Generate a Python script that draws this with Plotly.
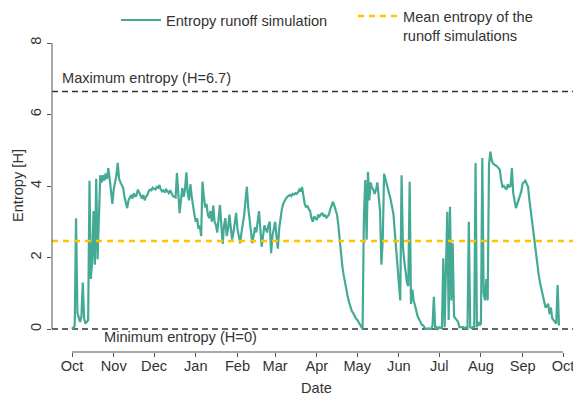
import pandas as pd
import plotly.graph_objects as go

# daily entropy of the runoff simulations, starting 1 Oct (hydrological year)
start_date = "2014-10-01"
entropy = [
    0.05, 0.0, 0.1, 3.1, 0.45, 0.3, 0.2, 0.35, 1.3, 0.3,
    0.15, 0.2, 0.25, 4.15, 1.4, 1.9, 3.3, 1.8, 4.2, 1.95,
    3.2, 4.3, 4.1, 4.3, 4.15, 4.35, 4.2, 4.5, 4.2, 3.9,
    3.5, 3.9, 4.1, 4.3, 4.65, 4.2, 4.1, 4.0, 3.95, 3.7,
    3.55, 3.38, 3.6, 3.7, 3.75, 3.65, 3.8, 3.7, 3.75, 3.9,
    3.8, 3.7, 3.65, 3.75, 3.6, 3.7, 3.75, 3.85, 3.9, 3.88,
    3.95, 3.92, 3.9, 3.97, 3.95, 4.03, 3.9, 3.85, 3.88, 3.82,
    3.9, 3.85, 3.8, 3.88, 3.78, 3.72, 3.7, 3.68, 4.36, 3.7,
    3.24, 3.6, 3.95, 3.7, 3.9, 4.38, 3.8, 3.6, 4.05, 3.7,
    3.4, 3.2, 3.0, 3.1, 2.8, 2.9, 2.6, 4.12, 3.7, 3.4,
    3.5, 3.2, 3.1, 3.3, 3.0, 3.45, 3.0, 2.9, 2.7, 3.1,
    3.47, 2.9, 2.38, 2.9, 3.1, 2.6, 2.8, 3.2, 2.8, 2.5,
    2.7, 3.0, 3.25, 2.8, 2.6, 2.4, 2.7, 2.9, 3.2, 3.6,
    3.98, 3.4, 3.0, 2.7, 2.4, 2.6, 2.85, 2.7, 3.0, 3.3,
    2.8, 2.3, 2.6, 2.9, 2.8, 2.7, 2.9, 3.0, 2.12, 2.6,
    2.8, 3.0, 2.6, 2.25, 2.8, 3.1, 3.35, 3.5, 3.6, 3.65,
    3.7, 3.72, 3.75, 3.72, 3.78, 3.76, 3.8, 3.78, 3.82, 3.9,
    3.85, 3.97, 3.7, 3.5, 3.4, 3.45, 3.35, 3.3, 3.1, 3.0,
    3.15, 3.1, 3.05, 3.2, 3.15, 3.2, 3.25, 3.15, 3.2, 3.1,
    3.15, 3.2, 3.35, 3.45, 3.56, 3.45, 3.3, 3.2, 2.9, 2.46,
    2.0, 1.74, 1.5, 1.27, 1.1, 0.9, 0.75, 0.62, 0.5, 0.45,
    0.35, 0.3, 0.26, 0.2, 0.12, 0.05, 0.0, 3.14, 4.17, 2.5,
    4.4, 3.6, 4.1, 3.95, 3.9, 3.78, 3.9, 4.1, 3.7, 3.3,
    1.8, 2.5, 4.34, 4.2, 4.05, 3.9, 3.8, 3.6, 3.4, 3.2,
    2.7, 2.2, 1.6, 1.1, 0.8, 4.3, 2.3, 1.9, 1.6, 1.3,
    1.2, 4.12, 0.7, 1.1, 0.8, 0.6, 0.5, 0.35, 0.25, 0.2,
    0.12, 0.1, 0.05, 0.0, 0.0, 0.02, 0.0, 0.0, 0.1, 0.9,
    0.0, 0.05, 0.0, 0.05, 0.03, 0.05, 1.98, 0.05, 1.74, 3.28,
    0.25, 3.42, 0.8, 2.4, 0.35, 0.3, 0.25, 0.2, 0.05, 0.05,
    0.03, 0.05, 0.02, 0.05, 0.03, 3.0, 0.05, 0.03, 0.05, 0.05,
    4.64, 0.05, 0.2, 0.1, 0.15, 4.78, 1.0, 0.8, 1.4, 0.8,
    4.6, 4.96, 4.72, 4.63, 4.6, 4.58, 4.55, 4.5, 4.46, 4.17,
    3.98, 4.0, 3.95, 3.9, 4.05, 3.98, 4.0, 4.5, 3.8, 3.6,
    3.38, 3.5, 3.6, 3.72, 3.85, 4.08, 4.1, 4.15, 4.05, 3.98,
    3.62, 3.3, 3.0, 2.77, 2.4, 2.0, 1.8, 1.5, 1.28, 1.1,
    0.9, 0.75, 0.6, 0.65, 0.7, 0.42, 0.6, 0.3, 0.25, 0.2,
    0.15, 1.23, 0.1,
]
mean_entropy = 2.46
max_entropy = 6.64
min_entropy = 0.0

month_ticks = pd.date_range("2014-10-01", "2015-10-01", freq="MS")
x_range = ["2014-09-16 03:00", "2015-10-14 09:00"]

dates = pd.date_range(start_date, periods=len(entropy), freq="D")

FONT = "Liberation Sans, Arial, sans-serif"
TXT = "#333333"
FS = 14.6

# page body has an 8px margin, so the figure is a bit smaller than the window
W, H = 573, 393
M_T, M_B = 33, 49
plot_h = H - M_T - M_B

fig = go.Figure()

fig.add_trace(go.Scatter(
    x=dates, y=entropy,
    mode="lines",
    name="Entropy runoff simulation",
    line=dict(color="#44AA95", width=2.2),
    legend="legend",
))

fig.add_trace(go.Scatter(
    x=x_range, y=[mean_entropy, mean_entropy],
    mode="lines",
    name="Mean entropy of the<br>runoff simulations",
    line=dict(color="#FFC300", width=2.5, dash="6px,5px"),
    legend="legend2",
))

# max / min entropy reference lines
for h in (max_entropy, min_entropy):
    fig.add_shape(type="line", xref="paper", x0=0, x1=1, yref="y", y0=h, y1=h,
                  line=dict(color="#333333", width=1.5, dash="6px,4px"), layer="below")

# trimmed axis lines (despined look)
fig.add_shape(type="line", xref="x", x0=month_ticks[0], x1=month_ticks[-1],
              yref="paper", y0=0, y1=0, line=dict(color="#555555", width=1))
fig.add_shape(type="line", xref="paper", x0=0, x1=0, yref="y", y0=0, y1=8,
              line=dict(color="#555555", width=1))

fig.add_annotation(text="Maximum entropy (H=6.7)", xref="paper", x=0, xshift=8,
                   xanchor="left", yref="y", y=max_entropy, yanchor="bottom", yshift=4,
                   showarrow=False, font=dict(size=FS, color=TXT))
fig.add_annotation(text="Minimum entropy (H=0)", xref="paper", x=0.094,
                   xanchor="left", yref="y", y=min_entropy, yanchor="top", yshift=2,
                   showarrow=False, font=dict(size=FS, color=TXT))
fig.add_annotation(text="Entropy [H]", xref="paper", x=0, xshift=-34, xanchor="center",
                   yref="y", y=4, textangle=-90, showarrow=False,
                   font=dict(size=FS, color=TXT))
fig.add_annotation(text="Date", xref="x", x="2015-04-01", yref="paper", y=0,
                   yshift=-36, yanchor="middle", showarrow=False,
                   font=dict(size=FS, color=TXT))

leg_common = dict(orientation="h", xref="container", yref="paper",
                  xanchor="left", yanchor="top", itemwidth=40,
                  font=dict(size=FS, color=TXT), bgcolor="rgba(0,0,0,0)")

fig.update_layout(
    width=W, height=H,
    margin=dict(l=44, r=0, t=M_T, b=M_B, autoexpand=False),
    plot_bgcolor="white", paper_bgcolor="white",
    font=dict(family=FONT, size=FS, color=TXT),
    showlegend=True,
    legend=dict(x=(116 - 8) / W, y=1 + (M_T + 4) / plot_h, **leg_common),
    legend2=dict(x=(353 - 8) / W, y=1 + (M_T + 8) / plot_h, valign="top", **leg_common),
    xaxis=dict(
        range=x_range, type="date", automargin=False,
        tickvals=month_ticks, tickformat="%b",
        ticks="outside", ticklen=4, tickcolor="#555555",
        ticklabelstandoff=-4,
        showgrid=False, zeroline=False, showline=False,
        tickfont=dict(size=FS, color=TXT),
    ),
    yaxis=dict(
        range=[-0.643, 8.056], automargin=False,
        tickvals=[0, 2, 4, 6, 8], tickangle=-90,
        ticks="outside", ticklen=4, tickcolor="#555555",
        showgrid=False, zeroline=False, showline=False,
        tickfont=dict(size=FS, color=TXT),
    ),
)

fig.write_html("out.html")
